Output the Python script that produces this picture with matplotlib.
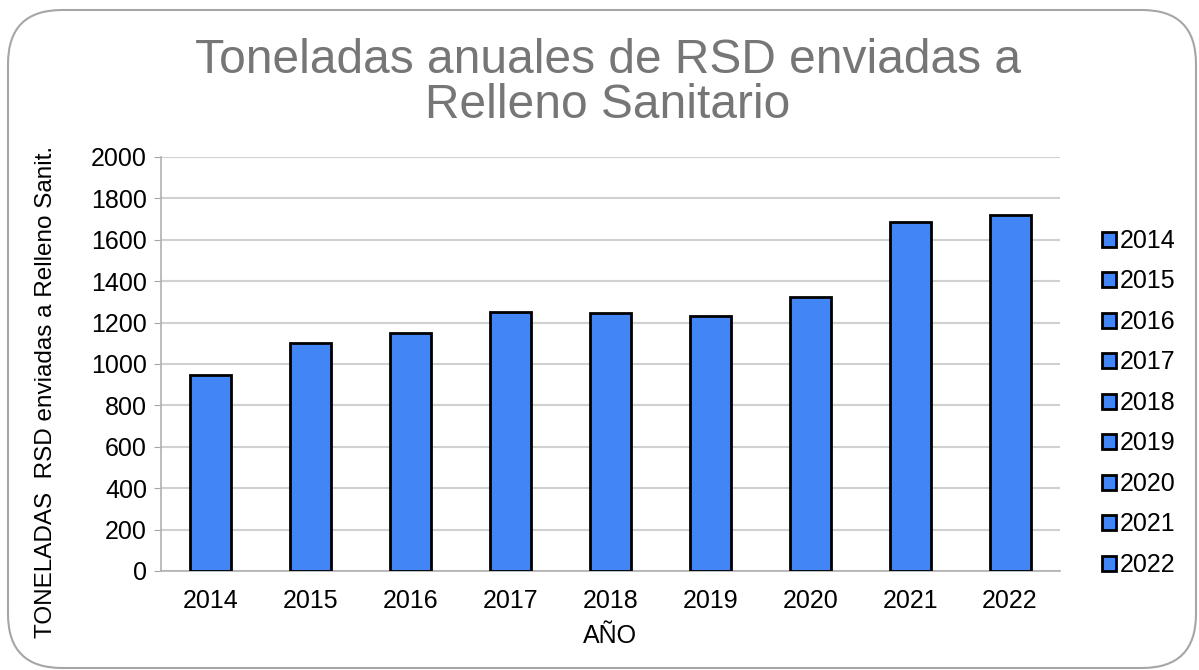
import matplotlib.pyplot as plt
from matplotlib.patches import FancyBboxPatch

# Datos
anios = ['2014', '2015', '2016', '2017', '2018', '2019', '2020', '2021', '2022']
toneladas = [945, 1100, 1150, 1250, 1245, 1230, 1325, 1685, 1720]
y_ticks = [0, 200, 400, 600, 800, 1000, 1200, 1400, 1600, 1800, 2000]

plt.rcParams['font.family'] = ['Liberation Sans', 'DejaVu Sans']

fig = plt.figure(figsize=(11.99, 6.70), dpi=100)
ax = fig.add_axes([161 / 1199, 1 - 571 / 670, (1060 - 161) / 1199, (571 - 157) / 670])

# marco redondeado
w, h = 1199, 670
frame = FancyBboxPatch((8 / w, 2 / h), (1196 - 8) / w, (660 - 2) / h,
                       boxstyle="round,pad=0,rounding_size=0.045",
                       transform=fig.transFigure, facecolor='white',
                       edgecolor='#a6a6a6', linewidth=1.5, zorder=-10,
                       mutation_aspect=w / h)
fig.patches.append(frame)

x = range(len(anios))
for i in x:
    ax.bar(i, toneladas[i], width=0.41, color='#4285f4', edgecolor='black',
           linewidth=2, label=anios[i], zorder=3)

ax.set_xlim(-0.5, len(anios) - 0.5)
ax.set_ylim(0, 2000)
ax.set_yticks(y_ticks)
ax.set_xticks(list(x))
ax.set_xticklabels(anios)
ax.tick_params(axis='both', labelsize=18, colors='#a6a6a6', labelcolor='black')
ax.tick_params(axis='x', length=0, pad=13)
ax.tick_params(axis='y', length=5, pad=5)
ax.grid(axis='y', color='#d0d0d0', linewidth=1.5, zorder=0)

for s in ['top', 'right']:
    ax.spines[s].set_visible(False)
ax.spines['left'].set_color('#b0b0b0')
ax.spines['bottom'].set_color('#b0b0b0')
ax.spines['left'].set_linewidth(1.2)
ax.spines['bottom'].set_linewidth(1.2)
ax.set_facecolor('none')

ax.set_xlabel('AÑO', fontsize=18, labelpad=8)
ax.set_ylabel('TONELADAS  RSD enviadas a Relleno Sanit.', fontsize=17.5)
ax.yaxis.set_label_coords(-0.116, 0.432)

fig.text(0.507, 0.944, 'Toneladas anuales de RSD enviadas a\nRelleno Sanitario',
         ha='center', va='top', fontsize=34.5, color='#767676', linespacing=1.0)

ax.legend(loc='center left', bbox_to_anchor=(1.036, 0.406), frameon=False,
          fontsize=18, handlelength=0.55, handleheight=0.55, handletextpad=0.15,
          labelspacing=0.66, borderaxespad=0)

fig.savefig('out.png', dpi=100)
